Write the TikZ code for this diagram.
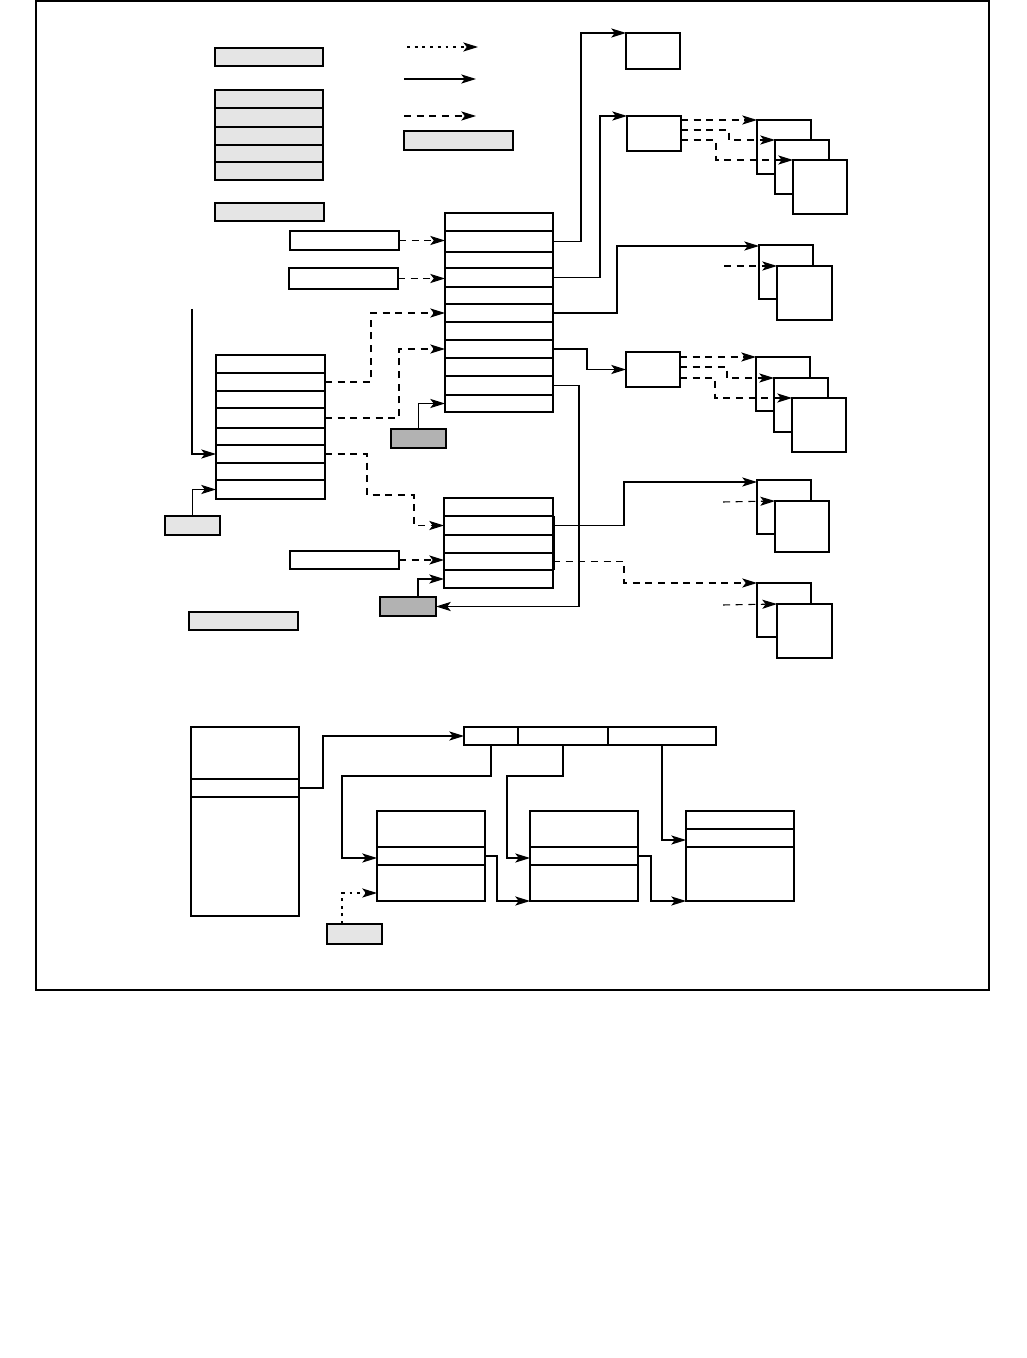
\documentclass[tikz,border=0pt]{standalone}
\usetikzlibrary{arrows.meta,fit,calc}

\begin{document}
\begin{tikzpicture}[x=0.025cm, y=-0.025cm, line width=0.75pt,
  cell/.style={draw, inner sep=0pt, outer sep=0pt, fill=white, fit={#1}},
  cellgray/.style={cell={#1}, fill=black!10},
  celldark/.style={cell={#1}, fill=black!30},
  link/.style={-{Stealth[length=10.5pt,width=6.5pt,inset=2.5pt]}},
  dashlink/.style={link, dash pattern=on 5pt off 4pt},
  dotlink/.style={link, dash pattern=on 2pt off 3.5pt}]
  \useasboundingbox (0,0) rectangle (1026,1358);
  \draw (36,1) rectangle (989,990);

  % legend
  \node[cellgray={(215,48) (323,66)}] (g1) {};
  \foreach \i/\ya/\yb in {1/90/108, 2/108/127, 3/127/145, 4/145/162, 5/162/180}
    \node[cellgray={(215,\ya) (323,\yb)}] (keys\i) {};
  \node[cellgray={(215,203) (324,221)}] (g3) {};
  \coordinate (dotA) at (407,47);  \coordinate (dotB) at (478,47);
  \coordinate (solA) at (404,79);  \coordinate (solB) at (476,79);
  \coordinate (dshA) at (404,116); \coordinate (dshB) at (476,116);
  \draw[dotlink] (dotA) -- (dotB);
  \draw[link] (solA) -- (solB);
  \draw[dashlink] (dshA) -- (dshB);
  \node[cellgray={(404,131) (513,150)}] (g4) {};

  % main table and its neighbours
  \foreach \i/\ya/\yb in {1/213/231, 2/231/252, 3/252/268, 4/268/287, 5/287/304, 6/304/322,
                          7/322/340, 8/340/358, 9/358/376, 10/376/395, 11/395/412}
    \node[cell={(445,\ya) (553,\yb)}] (m\i) {};
  \node[cell={(290,231) (399,250)}] (w1) {};
  \node[cell={(289,268) (398,289)}] (w2) {};
  \node[celldark={(391,429) (446,448)}] (dk1) {};

  \foreach \i/\ya/\yb in {1/355/373, 2/373/391, 3/391/408, 4/408/428, 5/428/445, 6/445/463,
                          7/463/480, 8/480/499}
    \node[cell={(216,\ya) (325,\yb)}] (l\i) {};
  \node[cellgray={(165,516) (220,535)}] (g5) {};
  \coordinate (lin) at (192,309);

  \foreach \i/\ya/\yb in {1/498/516, 2/516/535, 3/535/553, 4/553/570, 5/570/588}
    \node[cell={(444,\ya) (553,\yb)}] (n\i) {};
  \draw[line width=1.4pt] ($(n2.north east)+(1,0)$) -- ($(n4.south east)+(1,0)$);
  \node[cell={(290,551) (399,569)}] (w3) {};
  \node[celldark={(380,597) (436,616)}] (dk2) {};
  \node[cellgray={(189,612) (298,630)}] (g6) {};

  % right hand side
  \node[cell={(626,33) (680,69)}] (t1) {};
  \node[cell={(627,116) (681,151)}] (t2) {};
  \node[cell={(757,120) (811,174)}] (s1) {};
  \node[cell={(775,140) (829,194)}] (s2) {};
  \node[cell={(793,160) (847,214)}] (s3) {};
  \node[cell={(759,245) (813,299)}] (p1) {};
  \node[cell={(777,266) (832,320)}] (p2) {};
  \node[cell={(626,352) (680,387)}] (q) {};
  \node[cell={(756,357) (810,411)}] (r1) {};
  \node[cell={(774,378) (828,432)}] (r2) {};
  \node[cell={(792,398) (846,452)}] (r3) {};
  \node[cell={(757,480) (811,534)}] (u1) {};
  \node[cell={(775,501) (829,552)}] (u2) {};
  \node[cell={(757,583) (811,637)}] (v1) {};
  \node[cell={(777,604) (832,658)}] (v2) {};
  \coordinate (pin) at (724,266);
  \coordinate (uin) at (723,502);
  \coordinate (vin) at (723,605);

  % connectors, upper part
  \draw[dashlink] (w1.east) -- (w1.east -| m2.west);
  \draw[dashlink] (w2.east) -- (w2.east -| m4.west);
  \draw[dashlink] (l2.east) -- ++(46,0) |- (m6.west);
  \draw[dashlink] (l4.east) -- ++(74,0) |- (m8.west);
  \draw[link] (dk1.north) |- (m11.west);
  \draw[link] (lin) |- (l6.west);
  \draw[link] (g5.north) |- (l8.west);
  \draw[dashlink] (l6.east) -- ++(42,0) |- (414,495) |- (n2.west);
  \draw[dashlink] (w3.east) -- (w3.east -| n4.west);
  \draw[link] ($(dk2.north)+(10,0)$) |- (n5.west);

  \draw[link] (m2.east) -- ++(28,0) |- (t1.north west);
  \draw[link] (m4.east) -- ++(47,0) |- (t2.north west);
  \draw[link] (m6.east) -- ++(64,0) |- ($(p1.north west)+(0,1)$);
  \draw[link] (m8.east) -- ++(34,0) |- (q.west);
  \draw[link] (m10.east) -- ++(26,0) |- (dk2.east);
  \draw[link] (n2.east) -- ++(71,0) |- ($(u1.north west)+(0,2)$);
  \draw[dashlink] (n4.east) -- ++(71,0) |- (v1.north west);

  \draw[dashlink] (t2.east |- s1.north west) -- (s1.north west);
  \draw[dashlink] ($(t2.east)+(0,-3.5)$) -- ++(48,0) |- (s2.north west);
  \draw[dashlink] (t2.east |- s2.north west) -- ++(35,0) |- (s3.north west);
  \draw[dashlink] (q.east |- r1.north west) -- (r1.north west);
  \draw[dashlink] ($(q.east)+(0,-2.5)$) -- ++(47,0) |- (r2.north west);
  \draw[dashlink] (q.east |- r2.north west) -- ++(35,0) |- (r3.north west);
  \draw[dashlink] (pin) -- (p2.north west);
  \draw[dashlink] (uin) -- (u2.north west);
  \draw[dashlink] (vin) -- (v2.north west);

  % lower part
  \node[cell={(191,727) (299,779)}] (b1) {};
  \node[cell={(191,779) (299,797)}] (b2) {};
  \node[cell={(191,797) (299,916)}] (b3) {};
  \node[cell={(464,727) (518,745)}] (a1) {};
  \node[cell={(518,727) (608,745)}] (a2) {};
  \node[cell={(608,727) (716,745)}] (a3) {};
  \foreach \c/\xa/\xb in {1/377/485, 2/530/638} {
    \node[cell={(\xa,811) (\xb,847)}] (x\c a) {};
    \node[cell={(\xa,847) (\xb,865)}] (x\c b) {};
    \node[cell={(\xa,865) (\xb,901)}] (x\c c) {};
  }
  \node[cell={(686,811) (794,829)}] (x3a) {};
  \node[cell={(686,829) (794,847)}] (x3b) {};
  \node[cell={(686,847) (794,901)}] (x3c) {};
  \node[cellgray={(327,924) (382,944)}] (g7) {};

  \draw[link] (b2.east) -- ++(24,0) |- (a1.west);
  \draw[link] (a1.south) |- (342,776) |- ($(x1b.west)+(0,2)$);
  \draw[link] (a2.south) |- (507,776) |- ($(x2b.west)+(0,2)$);
  \draw[link] (a3.south) |- ($(x3b.west)+(0,2)$);
  \draw[link] (x1b.east) -- ++(12,0) |- (x2c.south west);
  \draw[link] (x2b.east) -- ++(13,0) |- (x3c.south west);
  \draw[dotlink] ($(g7.north west)+(15,0)$) |- ($(x1c.west)+(0,10)$);
\end{tikzpicture}
\end{document}
